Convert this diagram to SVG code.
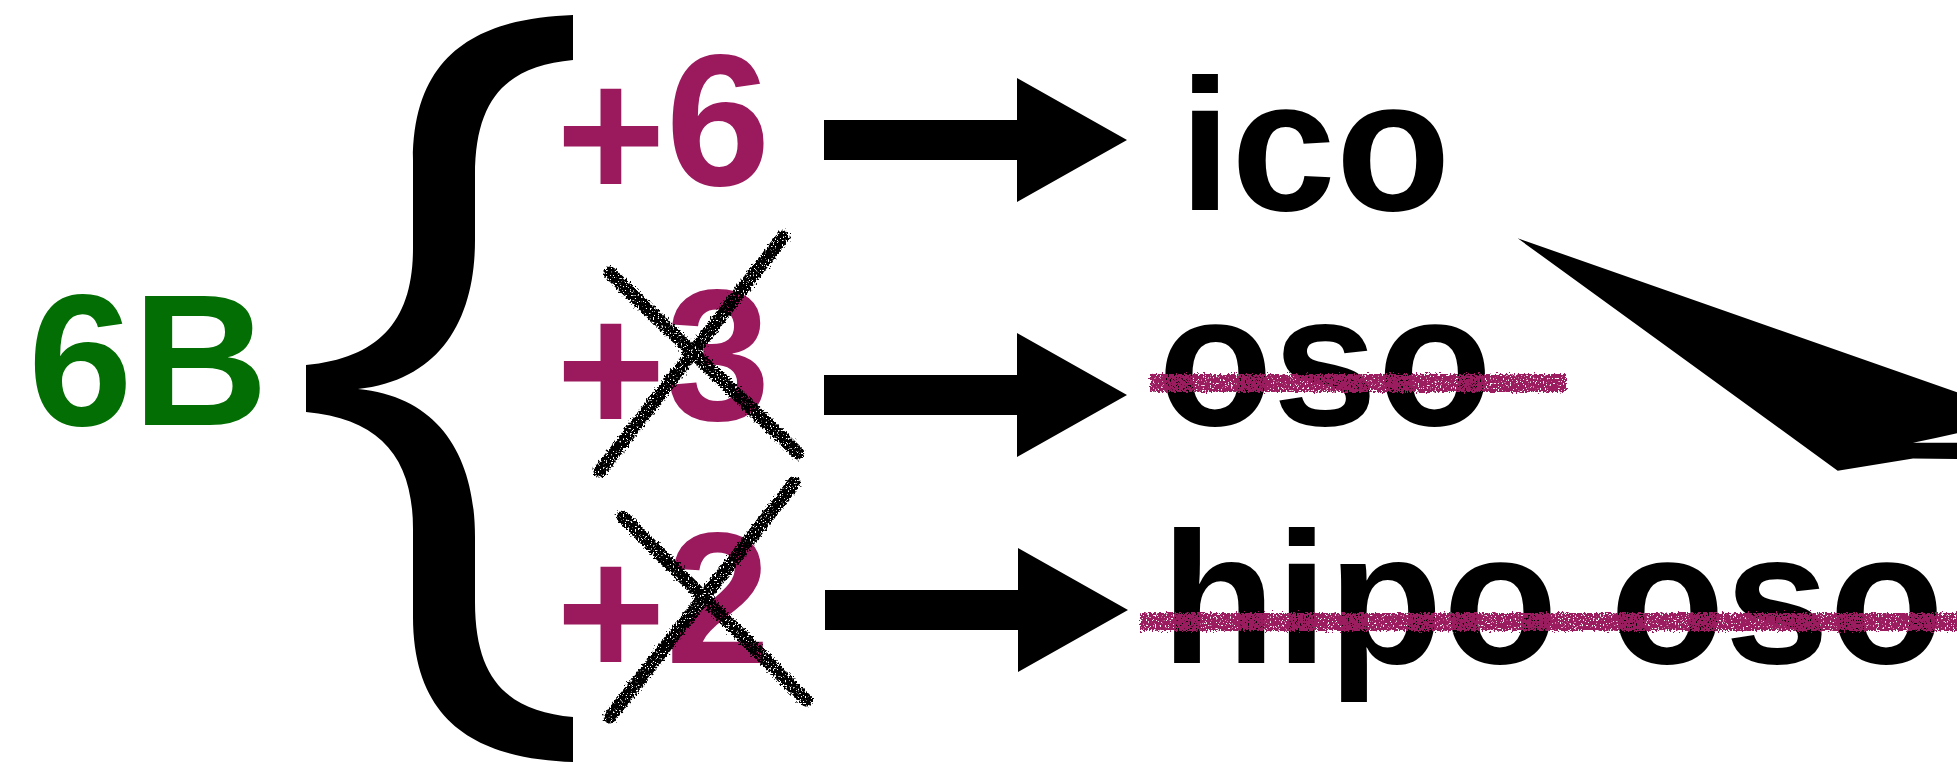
<svg xmlns="http://www.w3.org/2000/svg" width="1957" height="764" viewBox="0 0 1957 764">
  <style>
    .t { font-family: "Liberation Sans", Arial, Helvetica, sans-serif; font-weight: bold; font-size: 188px; }
    .green { fill: #036E03; }
    .purple { fill: #9B1A5E; }
    .black { fill: #000000; }
    .cross { stroke: #000000; stroke-width: 13; stroke-linecap: round; fill: none; }
    .strike { stroke: #9B1A5E; stroke-width: 18; fill: none; }
  </style>
  <defs>
    <filter id="rough" filterUnits="userSpaceOnUse" x="0" y="0" width="1957" height="764">
      <feTurbulence type="fractalNoise" baseFrequency="0.5" numOctaves="3" seed="4" result="noise"/>
      <feDisplacementMap in="SourceGraphic" in2="noise" scale="8" xChannelSelector="R" yChannelSelector="G" result="disp"/>
      <feTurbulence type="fractalNoise" baseFrequency="0.6" numOctaves="2" seed="9" result="noise2"/>
      <feColorMatrix in="noise2" type="matrix" values="0 0 0 0 0  0 0 0 0 0  0 0 0 0 0  -12 0 0 0 8.4" result="mask"/>
      <feComposite in="disp" in2="mask" operator="in"/>
    </filter>
    <path id="blockArrow" d="M0,-20 L193,-20 L193,-62 L303,0 L193,62 L193,20 L0,20 Z"/>
  </defs>
  <rect x="0" y="0" width="1957" height="764" fill="#ffffff"/>

  <g id="node-6B">
    <text class="t green" x="28" y="425">6B</text>
  </g>

  <g id="brace">
    <path class="black" d="M573,15 C490,18 413,45 413,160 L413,248 C413,320 380,358 306,365 L306,412 C380,419 413,457 413,529 L413,617 C413,732 490,759 573,762 L573,717 C510,711 475,682 475,602 L475,537 C475,457 440,397 358,389 C440,380 475,320 475,240 L475,175 C475,95 510,66 573,60 Z"/>
  </g>

  <g id="node-plus6">
    <text class="t purple" x="556" y="185"><tspan dy="14">+</tspan><tspan dy="-14">6</tspan></text>
  </g>
  <g id="node-plus3">
    <text class="t purple" x="556" y="420"><tspan dy="14">+</tspan><tspan dy="-14">3</tspan></text>
    <g filter="url(#rough)">
      <line class="cross" x1="610" y1="273" x2="798" y2="453"/>
      <line class="cross" x1="600" y1="471" x2="783" y2="237"/>
    </g>
  </g>
  <g id="node-plus2">
    <text class="t purple" x="556" y="663"><tspan dy="14">+</tspan><tspan dy="-14">2</tspan></text>
    <g filter="url(#rough)">
      <line class="cross" x1="623" y1="517" x2="806" y2="700"/>
      <line class="cross" x1="610" y1="717" x2="794" y2="483"/>
    </g>
  </g>

  <g id="node-ico">
    <text class="t black" x="1179" y="210">ico</text>
  </g>
  <g id="node-oso">
    <text class="t black" x="1158" y="425">oso</text>
    <line class="strike" x1="1150" y1="383" x2="1566" y2="383" filter="url(#rough)"/>
  </g>
  <g id="node-hipo-oso">
    <text class="t black" x="1161" y="663">hipo oso</text>
    <line class="strike" x1="1140" y1="622" x2="1975" y2="622" filter="url(#rough)"/>
  </g>

  <g id="connectors">
    <use href="#blockArrow" transform="translate(824,140)"/>
    <use href="#blockArrow" transform="translate(824,395)"/>
    <use href="#blockArrow" transform="translate(825,610)"/>
    <path class="black" d="M1517.7,238.3 L1975,398.5 L1975,429 Q1942,437 1913,442.7 L1975,442.7 L1975,459.3 L1913,458.5 L1837.7,470.7 Z"/>
  </g>
</svg>
